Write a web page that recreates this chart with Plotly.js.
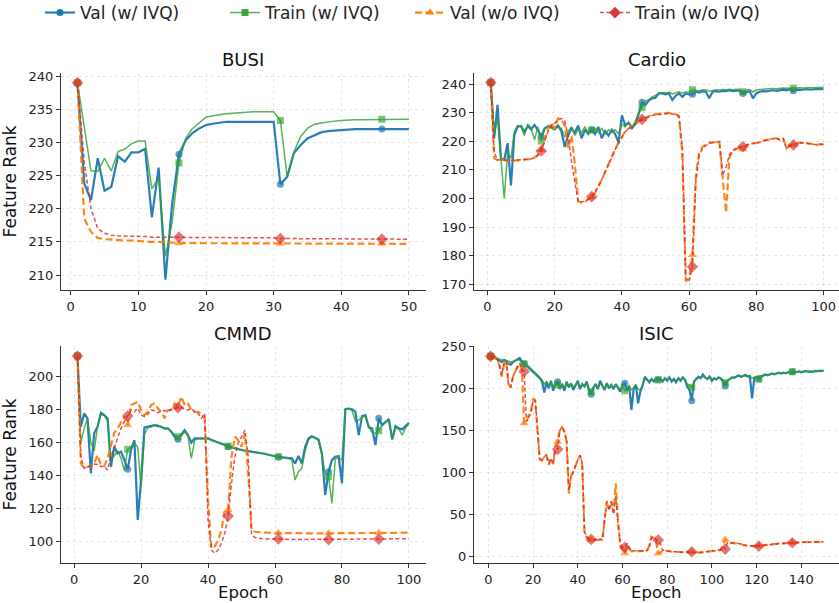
<!DOCTYPE html>
<html>
<head>
<meta charset="utf-8">
<script src="https://cdn.plot.ly/plotly-3.0.1.min.js"></script>
<style>html,body{margin:0;padding:0;background:#fff;}#chart{width:839px;height:603px;}</style>
</head>
<body>
<div id="chart"></div>
<script>
// ---------- Data ----------
const subplotTitles = ["BUSI", "Cardio", "CMMD", "ISIC"];
const seriesNames = ["Val (w/ IVQ)", "Train (w/ IVQ)", "Val (w/o IVQ)", "Train (w/o IVQ)"];
const xTitle = "Epoch";
const yTitle = "Feature Rank";

// BUSI (50 epochs)
const busiValIVQ = [239,223.8,221.3,227.6,222.7,223.3,227.9,227.1,228.5,228.5,
  229,218.7,226.2,209.3,220.8,228.2,230.3,231.4,232.1,232.6,
  232.8,233,233.1,233.1,233.1,233.1,233.1,233.1,233.1,233.1,
  223.7,224.8,228.4,229.6,230.6,231.1,231.5,231.7,231.8,231.9,
  232,232,232,232,232,232,232,232,232,232];
const busiTrainIVQ = [239,232,225.7,225.6,227.6,225.7,228.6,229,229.8,230.2,
  230.2,223,224.6,212.8,218,226.9,230.6,232.1,233,233.8,
  234,234.2,234.3,234.4,234.5,234.5,234.6,234.6,234.6,234.6,
  233.3,224.8,228.6,230.9,232.1,232.7,232.9,233.1,233.2,233.3,
  233.4,233.4,233.4,233.4,233.4,233.5,233.5,233.5,233.5,233.5];
const busiValNo = [239,218.5,216.5,215.6,215.4,215.3,215.3,215.2,215.2,215.1,
  215,215,215,214.9,214.9,214.8,214.8,214.8,214.8,214.8,
  214.8,214.8,214.8,214.8,214.8,214.8,214.8,214.8,214.8,214.8,
  214.7,214.7,214.7,214.7,214.7,214.7,214.7,214.7,214.7,214.7,
  214.7,214.7,214.7,214.7,214.7,214.7,214.7,214.7,214.7,214.7];
const busiTrainNo = [239,227,220,217,216.3,216,215.9,215.9,215.8,215.8,
  215.8,215.7,215.7,215.7,215.7,215.7,215.7,215.7,215.7,215.7,
  215.6,215.6,215.6,215.6,215.6,215.6,215.6,215.6,215.6,215.6,
  215.5,215.5,215.5,215.5,215.5,215.5,215.5,215.5,215.5,215.5,
  215.4,215.4,215.4,215.4,215.4,215.4,215.4,215.4,215.4,215.4];

// Cardio (100 epochs)
const cardioValIVQ = [240.5,221,232.7,214,213.5,219.3,204.5,222.2,225.1,225.3,
  223.3,225.3,224.1,225.7,223.9,221.6,224.5,225.1,225.1,224.5,
  225.5,223.5,218,222,224.5,223,225.5,221,224,222.5,
  224,222.5,225,221,223.5,222,224,222.5,219.5,229,
  225.5,226.5,224.5,226,229.5,233.6,232.7,234.2,235,235.2,
  236.7,236.7,236.4,236.7,234.4,235.9,236.7,235.5,236.7,236.4,
  236.4,237.3,237,237.5,237.2,235,237.3,237.5,237.3,237.6,
  237.5,237.8,237.5,237.6,237.8,236.7,237.2,237.5,235,236.7,
  237.3,237.5,237.4,237.7,237.8,237.6,237.9,238,237.8,238.2,
  237.6,238,237.9,238.1,238.2,238,238.2,238.3,238.2,238.2];
const cardioTrainIVQ = [240.5,222.5,228,214.5,200,216,214,223.5,225.5,225,
  222,226,224.5,220.5,225,220.1,224,225.5,224.5,224,
  225,224.5,221.5,223.5,225,222,224,223,225,223,
  223.9,224.5,223,224.5,222.5,224,223,224,222.5,226,
  225,226.5,225,227,230,231.7,234,234.5,235.5,236,
  236.8,237,236.9,237.2,236.5,236.8,237.3,236.8,237.2,237.3,
  238,237.8,237.6,238,237.9,237.5,237.8,238,237.9,238.1,
  238,238.2,238,238.2,238.1,237.3,237.9,238.1,237.2,237.9,
  238.1,238.2,238.1,238.3,238.4,238.3,238.5,238.6,238.5,238.6,
  238.5,238.6,238.7,238.6,238.8,238.7,238.8,238.9,238.8,238.9];
const cardioValNo = [240.5,214,213.4,213.3,213.2,213.2,213.2,213.2,213.3,213.4,
  213.5,213.6,213.8,214.3,215.3,217,220.5,224,226.5,224.5,
  228,227.6,225.5,217.5,222,212,199,198.5,198.8,199.6,
  200.4,202,204,206.5,209.2,212,214.6,217.2,219.5,221.6,
  223.5,224.5,225.3,226.2,227,227.8,228.2,228.8,229.2,229.4,
  229.6,229.8,229.8,229.9,229.7,229.5,228.8,215,171,172,
  180.2,208,216,218,219,219.5,219.6,219.7,219.9,207,
  195,214.5,216.5,217.3,217.6,217.2,218.6,219,219.2,219.3,
  219.6,220.1,220.4,220.7,220.9,221,220.5,220.9,217.5,218.5,
  218.7,219.2,219.5,219.4,219.2,219.1,219,218.8,218.9,218.9];
const cardioTrainNo = [240.5,216,213.5,213.4,213.3,213.3,213.3,213.3,213.4,213.4,
  213.5,213.6,213.8,214.2,215,216.6,219.8,223.3,225.7,226.2,
  227.4,228,227,222,213,205,198.8,198.8,199,199.8,
  200.6,202.3,204.1,206.6,209.3,212,214.6,217,219.3,221.5,
  223.3,224.2,225.1,226,226.8,227.6,228,228.6,229,229.2,
  229.4,229.5,229.6,229.7,229.5,229.3,228.5,217.5,172,171,
  176.1,205.8,215.2,217.5,218.5,219.4,219.5,219.6,219.8,208,
  211,215.2,216.8,217.5,217.8,218.1,218.6,219,219.2,219.3,
  219.6,220.1,220.4,220.7,220.9,221,220.5,220.9,217.5,218.5,
  218.7,219.2,219.5,219.4,219.2,219.1,219,218.8,218.9,218.9];

// CMMD (100 epochs)
const cmmdValIVQ = [212.6,169.6,177.7,174.7,141.3,165.6,169.6,178.1,176.7,174.7,
  145.3,157.5,153.4,154.5,149.4,143.7,155.5,161.5,113,137.2,
  169.2,169.6,170,170.6,170,169.6,168.6,168.6,166.6,163.6,
  162,164.6,167.6,164.6,160,162.5,162.5,162.5,162.3,162.5,
  161.5,160.8,160,159.5,158.5,157.5,157,156.3,155.8,155.2,
  155,154.8,154.5,154.2,154,153.6,153.2,152.6,152,151.4,
  151.2,151,150.8,150.6,150.4,147.3,151.8,147.3,157.4,162.5,
  163.9,163,161.9,153.4,128.1,142.2,149.3,151.4,151.8,135.2,
  180.3,180.7,180.3,178.7,164.5,176.1,176.7,169.2,168.6,158.5,
  174.7,170.6,172.6,174.3,161.9,170,168.6,168,170,172];
const cmmdTrainIVQ = [212.6,160,168.6,174.7,160,155,170,177,176.5,173,
  150,152,155,150.5,143,155.9,157,160,157,133.2,
  165,169,169.5,170.5,170.6,169.5,168.3,168.6,167,164.5,
  163.6,164,166.5,164,150.4,161.5,162.3,162.3,162.5,162.4,
  161.6,160.9,160.2,159.6,158.6,157.8,157.1,156.4,155.9,155.3,
  155.1,154.8,154.5,154.1,153.9,153.5,153.1,152.5,152,151.6,
  151.4,151,150.6,150.3,149.8,137.2,142.3,144.3,155,161.5,
  163.5,162.5,161,152.5,141.5,139.2,123,150,151,149.3,
  180,180.5,179.5,173,173.7,175.5,176,170,166,165.6,
  167.2,171,172.3,173.8,162,169,168,164.5,169,171.5];
const cmmdValNo = [212.6,147.4,144.3,145.3,145.7,147.4,152.4,146.3,145.7,150.4,
  157.9,166,168.6,172.1,175.7,170.6,182.8,183.8,184.8,179.8,
  176.7,178.7,182.8,183.8,180.8,178.7,174.7,179.8,179.8,183.8,
  181.5,187.9,182.8,183.8,179.8,178.7,178.7,177.7,174.7,125,
  95.7,96.8,100.8,106.9,119,119,151.4,163.6,161.5,157.5,
  165.6,141.2,106.8,105.8,105.5,105.3,105.2,105.2,105.1,105,
  105.2,105.1,105,105,104.9,104.9,104.8,104.8,104.8,104.8,
  104.8,104.8,104.8,104.8,104.8,104.8,104.9,104.9,104.9,104.9,
  105,105,105,105,105,105.1,105.1,105.1,105.1,105.1,
  105.1,105.2,105.2,105.2,105.2,105.2,105.2,105.2,105.2,105.2];
const cmmdTrainNo = [212.6,151.4,144.3,145.3,145.7,146.9,146.7,145.3,145.7,143.3,
  151.4,157.5,163.6,168.6,172.7,176.1,179.8,178.7,180.8,176.7,
  175.7,177.3,179.8,179.4,178.1,179.4,179.4,178.7,180.2,180.8,
  181.2,181.8,180.2,179.8,180.8,178.7,177.7,174.7,177.7,113,
  94.7,92.7,94.7,98.8,104.9,115.4,135.2,151.4,159.5,163.6,
  167.6,151.4,103.7,102.3,101.8,101.6,101.5,101.4,101.3,101.3,
  101.4,101.3,101.2,101.2,101.1,101.1,101.1,101.1,101.1,101.1,
  101.1,101.1,101.1,101.1,101.1,101,101.1,101.1,101.1,101.2,
  101.2,101.2,101.2,101.3,101.3,101.3,101.3,101.3,101.3,101.3,
  101.3,101.4,101.4,101.4,101.5,101.5,101.5,101.6,101.6,101.6];

// ISIC (150 epochs)
const isicValIVQ = [238,236,236.5,235,233,231,233.5,232,229,228,
  231,232.5,234,236,232,229,227,224.5,222,220,
  217.5,215,212,208,195,207,200,209,197,206,
  207.8,199,205,197,208,201,206,198,204,209,
  199,205,202,208,197,192.8,201,205,199,209,
  203,198,206,200,204,199,205,201,196,204,
  205.9,197,203,174.2,199,204,182.1,196,203,213.8,
  210,207,211,208,212,210.5,211,208,212,209,
  213,208,211,207,212,209,213,210,201.9,198,
  185.3,208,211,213.8,212,216.5,213,211,214,209,
  212,210.5,213,211.5,208,202.7,209,211.5,213,212.5,
  214,215.5,213.5,214.5,216,213.8,214.5,188,212.5,213,
  211.5,214,215,216.5,215.5,217,217.7,216.5,218,218.5,
  217.5,218.5,217.7,219,218.5,219.5,218.5,219.5,220,219,
  219.5,220.5,219.7,220,219.2,220.5,220,220.9,220.5,220.9];
const isicTrainIVQ = [238,236.5,236.5,235.5,234,233.5,234,233,231.5,231,
  232,233,234,233.5,230,228.8,228,226,223.5,221.5,
  219,216.5,213,210,205,208,204,207,202,206,
  203.9,201,205,200,206,203,205,201,204,207,
  202,204,203,206,200,196,201,204,201,206,
  203,200,205,201,203,201,204,202,199,203,
  197.1,200,203,198,201,204,199,198,204,211,
  209.5,208.5,210.5,209,211,209.8,211,209.5,211.5,210,
  212,209.5,211,209,211.5,210,212,210.5,205,203,
  201.1,207,210.5,212.5,212,214.5,212.5,211.5,213,210.5,
  211.5,211,212.5,212,210,206.6,209.5,211.5,212.5,213,
  213.5,214.5,214,214.5,215,214.5,214.8,212,213,213.5,
  210.6,213.5,214.5,216,215.5,216.5,217.5,217,218,218.5,
  218,218.7,218,219,219,219.7,219,219.7,220,219.5,
  219.8,220.5,220,220.2,219.8,220.5,220.3,220.9,220.6,221];
const isicValNo = [238,237,236,233,227,214,229,232,205,201,
  214,220,226,229,222,158.4,160,168,172,188,
  184,149,115,114,119,121,109,117,110,132,
  136.6,152,154,148,137,75,96,101,109,115,
  120,109,28,23,21,20,20.6,19.8,19.8,20.6,
  19.8,44,66,56,66,52,87.1,42,14,9,
  4,14,9.5,6.5,6.5,6.8,6.8,6.5,7,7,
  7.1,13,24,22,18,4,4.8,7.9,7.1,7.1,
  6.5,5.9,5.9,5.9,5.5,5.5,5.1,5.1,5.5,5.5,
  5.9,5.5,5.1,4.8,5.1,5.1,5.5,5.5,5.9,5.9,
  6.3,6.7,7.1,7.9,14,20.6,17,16.6,16.6,16.6,
  16.2,15.8,15,13.9,13.5,12.7,12.7,12.7,12.7,12.7,
  12.7,13.1,13.5,13.9,14.3,14.7,15,15,15.4,15.4,
  15.8,15.8,16.2,16.2,16.6,16.6,16.6,17,17,17,
  17.4,17.4,17.4,17.4,17.8,17.8,17.8,17.8,17.8,17.8];
const isicTrainNo = [238,237,236,233.6,227.6,215.8,229.6,233,203.9,201.9,
  213.8,219.7,225.7,229.6,222.5,220,160.3,166.3,170.2,186.1,
  186.1,150.4,116.8,114.8,118.8,120.7,110.8,116.8,110.8,126.7,
  127.5,150.4,154.4,148.5,138.6,79.2,95,101,108.9,114.8,
  120.7,110.8,29.7,23.8,21.8,20.6,20.6,19.8,19.8,20.6,
  19.8,43.5,65.3,55.4,65.3,51.5,71.3,39.6,15.8,11.1,
  11.1,15.8,9.9,7.1,7.1,7.1,7.1,7.9,7.9,7.1,
  7.1,11.9,21.8,23.8,19.8,19.8,15,7.9,7.1,7.1,
  6.5,5.9,5.9,5.9,5.5,5.5,5.1,5.1,5.5,5.5,
  5.9,5.5,5.1,4.8,5.1,5.1,5.5,5.5,5.9,5.9,
  6.3,6.7,7.1,7.9,11.9,9.1,16.6,16.6,16.6,16.6,
  16.2,15.8,15,13.9,13.5,12.7,12.7,12.7,12.7,12.7,
  12.7,13.1,13.5,13.9,14.3,14.7,15,15,15.4,15.4,
  15.8,15.8,16.2,16.2,16.6,16.6,16.6,17,17,17,
  17.4,17.4,17.4,17.4,17.8,17.8,17.8,17.8,17.8,17.8];

// Tick values
const busiXTicks = [0,10,20,30,40,50];
const busiYTicks = [210,215,220,225,230,235,240];
const cardioXTicks = [0,20,40,60,80,100];
const cardioYTicks = [170,180,190,200,210,220,230,240];
const cmmdXTicks = [0,20,40,60,80,100];
const cmmdYTicks = [100,120,140,160,180,200];
const isicXTicks = [0,20,40,60,80,100,120,140];
const isicYTicks = [0,50,100,150,200,250];

// ---------- Styles ----------
const FONT = "DejaVu Sans, Liberation Sans, sans-serif";
const styles = [
  {color:"rgba(31,119,180,0.95)", mcolor:"#1f77b4", width:2.2, dash:"solid", symbol:"circle", ms:7},
  {color:"rgba(44,160,44,0.8)", mcolor:"rgba(44,160,44,0.9)", width:1.5, dash:"solid", symbol:"square", ms:7},
  {color:"rgba(255,127,14,0.95)", mcolor:"#ff7f0e", width:2.2, dash:"7px,3.5px", symbol:"triangle-up", ms:8},
  {color:"rgba(214,39,40,0.8)", mcolor:"rgba(214,39,40,0.9)", width:1.5, dash:"4px,2.5px", symbol:"diamond", ms:9}
];

const panels = [
  {series:[busiValIVQ,busiTrainIVQ,busiValNo,busiTrainNo], xa:"x", ya:"y"},
  {series:[cardioValIVQ,cardioTrainIVQ,cardioValNo,cardioTrainNo], xa:"x2", ya:"y2"},
  {series:[cmmdValIVQ,cmmdTrainIVQ,cmmdValNo,cmmdTrainNo], xa:"x3", ya:"y3"},
  {series:[isicValIVQ,isicTrainIVQ,isicValNo,isicTrainNo], xa:"x4", ya:"y4"}
];

const traces = [];
panels.forEach(p => {
  p.series.forEach((vals, k) => {
    const st = styles[k];
    traces.push({
      type:"scatter", mode:"lines+markers",
      x: vals.map((_, i) => i + 1), y: vals,
      xaxis:p.xa, yaxis:p.ya, showlegend:false, hoverinfo:"skip",
      line:{color:st.color, width:st.width, dash:st.dash},
      marker:{color:st.mcolor, symbol:st.symbol, size: vals.map((_, i) => i % 15 === 0 ? st.ms : 0), line:{width:0}}
    });
  });
});
// legend entries
seriesNames.forEach((name, k) => {
  const st = styles[k];
  traces.push({
    type:"scatter", mode:"lines+markers", x:[null], y:[null], name:name,
    xaxis:"x", yaxis:"y", showlegend:true,
    line:{color:st.color, width:st.width, dash:st.dash},
    marker:{color:st.mcolor, symbol:st.symbol, size:st.ms}
  });
});

const W = 839, H = 603;
const xL = [60.9/W, 425.5/W], xR = [474/W, 1];
const yT = [1-290/H, 1-72.7/H], yB = [1-563.3/H, 1-345.5/H];

function axis(domain, anchor, range, ticks, title, standoff) {
  const a = {
    domain:domain, anchor:anchor, range:range, tickvals:ticks, ticktext:ticks.map(String),
    showline:true, linecolor:"#333", linewidth:1, mirror:false,
    ticks:"outside", ticklen:4, tickwidth:1, tickcolor:"#333",
    tickfont:{family:FONT, size:13, color:"#222"},
    showgrid:true, gridcolor:"rgba(0,0,0,0.12)", gridwidth:0.8, griddash:"dot",
    zeroline:false, automargin:false
  };
  if (title) a.title = {text:title, font:{family:FONT, size:17, color:"#111"}, standoff:standoff};
  return a;
}

const titleAnns = subplotTitles.map((t, i) => ({
  text:t, xref:"paper", yref:"paper", showarrow:false,
  x: (i % 2 === 0 ? (xL[0]+xL[1])/2 : (474+839)/2/W),
  y: (i < 2 ? 1-59/H : 1-333/H), xanchor:"center", yanchor:"middle",
  font:{family:FONT, size:18, color:"#111"}
}));
const epochAnns = [(xL[0]+xL[1])/2, (474+839)/2/W].map(xc => ({
  text:xTitle, xref:"paper", yref:"paper", showarrow:false,
  x:xc, y:1-592/H, xanchor:"center", yanchor:"middle", borderpad:0,
  font:{family:FONT, size:16.5, color:"#111"}
}));

const layout = {
  width:W, height:H, margin:{l:0, r:0, t:0, b:0, autoexpand:false},
  paper_bgcolor:"#fff", plot_bgcolor:"#fff",
  font:{family:FONT, color:"#222"},
  showlegend:true,
  legend:{orientation:"h", x:40/W, xanchor:"left", y:1-13/H, yanchor:"middle",
    font:{family:FONT, size:17, color:"#222"}, itemwidth:30, entrywidth:140, bgcolor:"rgba(0,0,0,0)"},
  xaxis: axis(xL, "y", [-1.45, 52.45], busiXTicks),
  yaxis: axis(yT, "x", [207.74, 240.5], busiYTicks, yTitle, 8),
  xaxis2: axis(xR, "y2", [-4.0, 104.6], cardioXTicks),
  yaxis2: axis(yT, "x2", [167.97, 243.95], cardioYTicks),
  xaxis3: axis(xL, "y3", [-3.95, 104.95], cmmdXTicks),
  yaxis3: axis(yB, "x3", [86.6, 219], cmmdYTicks, yTitle, 8),
  xaxis4: axis(xR, "y4", [-6.44, 156.9], isicXTicks),
  yaxis4: axis(yB, "x4", [-7.8, 250.8], isicYTicks),
  annotations: titleAnns.concat(epochAnns)
};

Plotly.newPlot("chart", traces, layout, {staticPlot:true, displayModeBar:false});
</script>
</body>
</html>
